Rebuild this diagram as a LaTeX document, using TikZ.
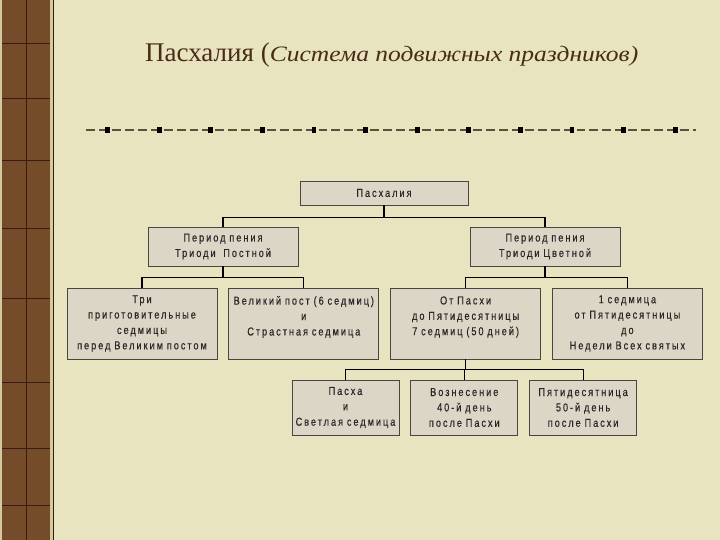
\documentclass[tikz,border=0pt]{standalone}
\usepackage{fontspec}
\setmainfont{Liberation Serif}[ItalicFeatures={FakeStretch=1.16}]
\newfontfamily\boxfont[LetterSpace=17,FakeStretch=0.8,WordSpace=2.2,FakeBold=0.4]{Liberation Sans}
\usepackage{tikz}
\usetikzlibrary{positioning}

\definecolor{paper}{RGB}{233,228,192}
\definecolor{strip}{RGB}{116,76,42}
\definecolor{stripline}{RGB}{55,28,18}
\definecolor{stripedge}{RGB}{214,200,160}
\definecolor{titlecol}{RGB}{72,44,22}
\definecolor{rulecol}{RGB}{88,82,58}
\definecolor{blkfill}{RGB}{220,214,198}
\definecolor{blkline}{RGB}{72,70,64}
\definecolor{blktext}{RGB}{40,40,40}

\tikzset{
  blk/.style={draw=blkline, fill=blkfill, line width=0.8pt, text width=#1+10pt,
    inner xsep=-5pt, inner ysep=0pt,
    text=blktext, font={\boxfont\fontsize{11.5}{15.4}\selectfont}, align=center},
  blk/.default=150pt,
  link/.style={line width=1.2pt, black}
}

\begin{document}
\begin{tikzpicture}[x=1pt, y=-1pt]
        \useasboundingbox (0,0) rectangle (720,540);
        \fill[paper] (0,0) rectangle (720,540);

        % left strip
        \fill[strip] (0,0) rectangle (53,540);
        \draw[stripline, line width=0.8pt] (26,0) -- (26,540);
        \foreach \y in {43,98,160,228,298,382,448,505}
          \draw[stripline, line width=0.8pt] (2,\y) -- (51,\y);
        \fill[stripedge] (0,0) rectangle (1.6,540);
        \fill[stripedge] (50,0) rectangle (52.6,540);
        \draw[stripline, line width=1pt] (53.5,0) -- (53.5,540);

        % title
        \node[anchor=base west, text=titlecol, inner sep=0pt] (title) at (145,62)
          {{\fontsize{27}{30}\selectfont Пасхалия (}{\fontsize{22}{24}\selectfont\itshape Система подвижных праздников)}};

        % rule
        \draw[rulecol, line width=2.2pt, dash pattern=on 8.9pt off 4pt, dash phase=10.6pt] (84,130) -- (696,130);
        \foreach \i in {0,...,11}
          \fill[black] ({107.5+51.6*\i-2.4},126.8) rectangle ++(4.8,6.4);

        % boxes
        \node[blk=168pt, minimum height=24pt] (pasch) at (384,193) {Пасхалия};
        \node[blk, minimum height=39pt] (postn) at (223,246.5) {Период пения\\Триоди~ Постной};
        \node[blk, minimum height=39pt] (tsvet) at (545,246.5) {Период пения\\Триоди Цветной};

        \node[blk, minimum height=71pt] (tri) at (142,323.5) {Три\\приготовительные\\седмицы\\перед Великим постом};
        \node[blk, minimum height=71pt, right=11pt of tri] (post) {Великий пост (6 седмиц)\\и\\Страстная седмица\\\mbox{}};
        \node[blk, minimum height=71pt, right=11pt of post] (pjat) {От Пасхи\\до Пятидесятницы\\7 седмиц (50 дней)\\\mbox{}};
        \node[blk, minimum height=71pt, right=11pt of pjat] (vseh) {1 седмица\\от Пятидесятницы\\до\\Недели Всех святых};

        \node[blk=107pt, minimum height=55pt] (pasha) at (345.5,407.5) {Пасха\\и\\Светлая седмица};
        \node[blk=107pt, minimum height=55pt, right=11pt of pasha] (vozn) {Вознесение\\40-й день\\после Пасхи};
        \node[blk=107pt, minimum height=55pt, right=11pt of vozn] (pjatd) {Пятидесятница\\50-й день\\после Пасхи};

        % links
        \draw[link] (pasch.south) -- ++(0,12) -| (postn.north);
        \draw[link] (pasch.south) -- ++(0,12) -| (tsvet.north);
        \draw[link] (postn.south) -- ++(0,11) -| (tri.north);
        \draw[link] (postn.south) -- ++(0,11) -| (post.north);
        \draw[link] (tsvet.south) -- ++(0,11) -| (pjat.north);
        \draw[link] (tsvet.south) -- ++(0,11) -| (vseh.north);
        \draw[link] (pjat.south) -- ++(0,10) -| (pasha.north);
        \draw[link] (pjat.south) -- ++(0,10) -| (vozn.north);
        \draw[link] (pjat.south) -- ++(0,10) -| (pjatd.north);
\end{tikzpicture}
\end{document}
